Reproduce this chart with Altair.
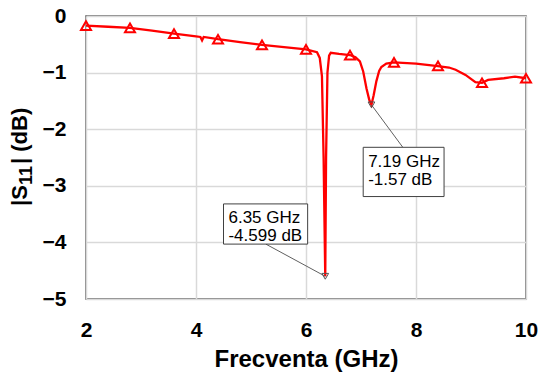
import altair as alt
import pandas as pd

# Measured |S11| curve
freq = [2.0, 2.4, 2.8, 3.2, 3.6, 4.0, 4.08, 4.11, 4.14, 4.4, 4.8, 5.2, 5.6, 6.0,
        6.2, 6.25, 6.29, 6.32, 6.35, 6.365, 6.39, 6.42, 6.45, 6.6, 6.8, 6.9, 6.98,
        7.04, 7.10, 7.15, 7.19, 7.23, 7.28, 7.33, 7.37, 7.46, 7.6, 8.0, 8.36, 8.6,
        8.72, 8.9, 9.08, 9.2, 9.31, 9.6, 9.8, 10.0]
s11 = [-0.17, -0.19, -0.21, -0.26, -0.31, -0.36, -0.37, -0.43, -0.37, -0.41, -0.46, -0.51, -0.55, -0.59,
       -0.64, -0.74, -1.06, -2.5, -4.599, -2.5, -1.0, -0.70, -0.65, -0.67, -0.69, -0.73, -0.80,
       -0.98, -1.28, -1.48, -1.57, -1.40, -1.15, -0.97, -0.90, -0.84, -0.82, -0.84, -0.88, -0.91,
       -0.95, -1.04, -1.17, -1.18, -1.13, -1.10, -1.07, -1.10]

# Triangle markers along the trace
mark_freq = [2.0, 2.8, 3.6, 4.4, 5.2, 6.0, 6.8, 7.6, 8.4, 9.2, 10.0]
mark_s11 = [-0.17, -0.21, -0.31, -0.41, -0.51, -0.59, -0.69, -0.82, -0.88, -1.18, -1.10]

# Marker annotations (minima)
min_freq = [6.35, 7.19]
min_s11 = [-4.599, -1.57]
label_line1 = ["6.35 GHz", "7.19 GHz"]
label_line2 = ["-4.599 dB", "-1.57 dB"]

# annotation box geometry (data coordinates)
box_x = [4.50, 7.04]
box_x2 = [6.03, 8.51]
box_y = [-3.32, -2.32]
box_y2 = [-4.03, -3.19]
lead_x = [5.27, 7.76]
lead_y = [-4.03, -2.32]
text_x = [4.59, 7.13]
text_y1 = [-3.65, -2.66]
text_y2 = [-3.97, -2.98]

# y-axis title pieces: "|S", subscript "11", "| (dB)"
ytitle_parts = ["|S", "11", "| (dB)"]

df = pd.DataFrame({"f": freq, "s": s11})
dm = pd.DataFrame({"f": mark_freq, "s": mark_s11})
da = pd.DataFrame({"f": min_freq, "s": min_s11, "l1": label_line1, "l2": label_line2,
                   "bx": box_x, "bx2": box_x2, "by": box_y, "by2": box_y2,
                   "lx": lead_x, "ly": lead_y, "tx": text_x, "ty1": text_y1, "ty2": text_y2})

FONT = "Liberation Sans"
W, H = 440, 283
xs = alt.Scale(domain=[2, 10], nice=False, zero=False)
ys = alt.Scale(domain=[-5, 0], nice=False, zero=False)

xax = alt.Axis(values=[2, 4, 6, 8, 10], format="d", title="Frecventa (GHz)", ticks=False, tickSize=0,
               labelPadding=20, labelFontSize=21, labelFontWeight="bold", labelFont=FONT,
               labelColor="black", titleFont=FONT, titleFontSize=24, titleFontWeight="bold",
               titleColor="black", titleBaseline="alphabetic", titleY=67, domain=False,
               grid=True, gridColor="#d9d9d9", gridWidth=1.5, labelFlush=False)
yax = alt.Axis(values=[0, -1, -2, -3, -4, -5], format="d", title=None, ticks=False, tickSize=0,
               labelPadding=20, labelFontSize=21, labelFontWeight="bold", labelFont=FONT,
               labelColor="black", domain=False,
               grid=True, gridColor="#d9d9d9", gridWidth=1.5, labelFlush=False)

line = alt.Chart(df).mark_line(color="#ff0000", strokeWidth=2.3).encode(
    x=alt.X("f:Q", scale=xs, axis=xax),
    y=alt.Y("s:Q", scale=ys, axis=yax),
    order="f:Q",
)

marks = alt.Chart(dm).mark_point(shape="triangle-up", filled=False, color="#ff0000",
                                 strokeWidth=2, size=100, opacity=1).encode(
    x=alt.X("f:Q", scale=xs), y=alt.Y("s:Q", scale=ys))

lead = alt.Chart(da).mark_rule(color="#606060", strokeWidth=1).encode(
    x=alt.X("f:Q", scale=xs), y=alt.Y("s:Q", scale=ys), x2="lx:Q", y2="ly:Q")

mins = alt.Chart(da).mark_point(shape="triangle-down", filled=False, color="#555555",
                                strokeWidth=1, size=45, opacity=1).encode(
    x=alt.X("f:Q", scale=xs), y=alt.Y("s:Q", scale=ys))

box = alt.Chart(da).mark_rect(fill="white", stroke="#404040", strokeWidth=1).encode(
    x=alt.X("bx:Q", scale=xs), x2="bx2:Q", y=alt.Y("by:Q", scale=ys), y2="by2:Q")

t1 = alt.Chart(da).mark_text(align="left", baseline="alphabetic", font=FONT, fontSize=17,
                             color="black").encode(
    x=alt.X("tx:Q", scale=xs), y=alt.Y("ty1:Q", scale=ys), text="l1:N")
t2 = alt.Chart(da).mark_text(align="left", baseline="alphabetic", font=FONT, fontSize=17,
                             color="black").encode(
    x=alt.X("tx:Q", scale=xs), y=alt.Y("ty2:Q", scale=ys), text="l2:N")

# rotated y title built from pieces so the subscript is sized like the original
yt_common = dict(align="left", baseline="alphabetic", font=FONT, fontWeight="bold",
                 color="black", angle=270)
yt1 = alt.Chart(pd.DataFrame({"t": [ytitle_parts[0]]})).mark_text(fontSize=22, **yt_common).encode(
    x=alt.value(-59), y=alt.value(190), text="t:N")
yt2 = alt.Chart(pd.DataFrame({"t": [ytitle_parts[1]]})).mark_text(fontSize=18, **yt_common).encode(
    x=alt.value(-54), y=alt.value(169), text="t:N")
yt3 = alt.Chart(pd.DataFrame({"t": [ytitle_parts[2]]})).mark_text(fontSize=22, **yt_common).encode(
    x=alt.value(-59), y=alt.value(148), text="t:N")

chart = alt.layer(line, lead, box, t1, t2, mins, marks, yt1, yt2, yt3).properties(
    width=W, height=H,
    autosize=alt.AutoSizeParams(type="none"),
    padding={"left": 78, "top": 8, "right": 13, "bottom": 73},
).configure_view(stroke="#595959", strokeWidth=1.5)

chart.save("out.html", embed_options={"renderer": "svg", "actions": False})
